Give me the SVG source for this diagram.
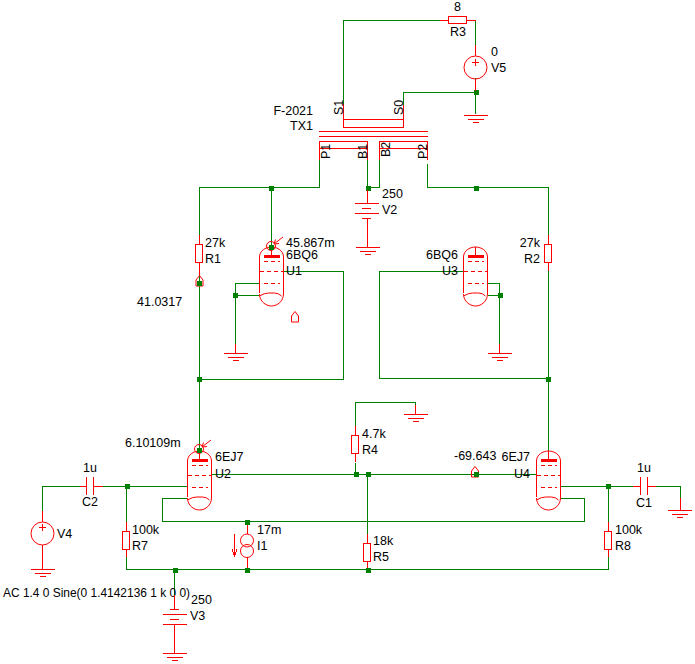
<svg xmlns="http://www.w3.org/2000/svg" xmlns:xlink="http://www.w3.org/1999/xlink" width="695" height="664" viewBox="0 0 695 664">
<style>
text{font-family:"Liberation Sans",Arial,sans-serif;font-size:12.5px;fill:#000}
.e{text-anchor:end}.m{text-anchor:middle}
.g{fill:none;stroke:#008000;stroke-width:1;shape-rendering:crispEdges}
.r,.c{fill:none;stroke:#f00;stroke-width:1}
.r{shape-rendering:crispEdges}
.b{fill:#f00;stroke:none;shape-rendering:crispEdges}
.d{fill:#008000;shape-rendering:crispEdges}
.dash{stroke-dasharray:4 3}
</style>
<defs>
<g id="gnd"><path class="r" d="M-12 .5H12M-8 4.5H8M-3 7.5H3"/></g>
<g id="res"><rect class="r" x="-3.5" y="0.5" width="7" height="18"/></g>
<g id="bullet"><path class="c" d="M-3.5 11V5L0 .5L3.500 5V11Z"/></g>
<g id="dot"><rect class="d" x="-2.500" y="-2.500" width="5" height="5"/></g>
<g id="tube">
<path class="c" d="M-12 46V10C-12 4-6 0 0 0C6 0 12 4 12 10V47C12 54 6 59 0 59C-6 59-12 54-12 47"/>
<path class="r" d="M0 0V8"/>
<rect class="b" x="-8" y="7.500" width="16" height="3"/>
<path class="r dash" d="M-8 14.500H8M-12 24.500H12M-8 36.500H8"/>
<path class="c" d="M-12 49Q-7 46-3 46H3Q7 46 10 49"/>
</g>
<g id="probe"><circle class="c" r="4.500"/><path class="c" d="M3 -2L12 -9M3 -2L4.500 -6.500M3 -2L8 -2.500"/></g>
</defs>

<g id="connectors">
<path class="g" d="M343.500 104V20.500H439.500"/>
<path class="g" d="M475.500 20.500V45"/>
<path class="g" d="M475.500 92.500H403.500V105"/>
<path class="g" d="M475.500 78V114"/>
<path class="g" d="M200 187.500H319.500V160"/>
<path class="g" d="M367.500 160V187.500"/>
<path class="g" d="M379.500 160V187.500H367"/>
<path class="g" d="M427.500 164V187.500H548.500V244"/>
<path class="g" d="M199.500 187V236"/>
<path class="g" d="M271.500 187V247"/>
<path class="g" d="M199.500 272V450"/>
<path class="g" d="M548.500 262V451"/>
<path class="g" d="M283 271.500H343.500V379.500H199"/>
<path class="g" d="M464 271.500H379.500V378.500H548"/>
<path class="g" d="M259 283.500H235.500V344M259 295.500H235"/>
<path class="g" d="M488 283.500H499.500V344M488 295.500H500"/>
<path class="g" d="M211 474.500H536"/>
<path class="g" d="M42.500 511V486.500H80M103 486.500H187"/>
<path class="g" d="M560 486.500H633M656 486.500H680.500V498"/>
<path class="g" d="M187 498.500H162.500V521.500H584.500V498.500H560"/>
<path class="g" d="M126.500 486V522M126.500 557V569.500H608.500V557M608.500 486V522"/>
<path class="g" d="M355.500 426V402.500H415.500V405M355.500 463V474"/>
<path class="g" d="M367.500 474V534"/>
<path class="g" d="M174.500 570V595"/>
<use xlink:href="#dot" href="#dot" x="476.500" y="92.500"/>
<use xlink:href="#dot" href="#dot" x="368.500" y="188.500"/>
<use xlink:href="#dot" href="#dot" x="476.500" y="188.500"/>
<use xlink:href="#dot" href="#dot" x="271.500" y="188.500"/>
<use xlink:href="#dot" href="#dot" x="199.500" y="283.500"/>
<use xlink:href="#dot" href="#dot" x="235.500" y="295.500"/>
<use xlink:href="#dot" href="#dot" x="500.500" y="295.500"/>
<use xlink:href="#dot" href="#dot" x="199.500" y="379.500"/>
<use xlink:href="#dot" href="#dot" x="548.500" y="379.500"/>
<use xlink:href="#dot" href="#dot" x="127.500" y="486.500"/>
<use xlink:href="#dot" href="#dot" x="608.500" y="486.500"/>
<use xlink:href="#dot" href="#dot" x="356.500" y="474.500"/>
<use xlink:href="#dot" href="#dot" x="368.500" y="474.500"/>
<use xlink:href="#dot" href="#dot" x="476.500" y="474.500"/>
<use xlink:href="#dot" href="#dot" x="247.500" y="522.500"/>
<use xlink:href="#dot" href="#dot" x="175.500" y="570.500"/>
<use xlink:href="#dot" href="#dot" x="247.500" y="570.500"/>
<use xlink:href="#dot" href="#dot" x="368.500" y="570.500"/>
</g>

<g id="R3"><path class="r" d="M440 20.500H448M467 20.500H475.500"/><rect class="r" x="448.500" y="16.500" width="18" height="7"/><text x="454" y="11">8</text><text x="450" y="36">R3</text></g>
<g id="V5"><path class="r" d="M475.500 45V56M475.500 79V91"/><circle class="c" cx="475.500" cy="67.500" r="11.500"/><path class="r" d="M472 62.500H479M475.500 59V66"/><text x="491" y="56">0</text><text x="491" y="72">V5</text><use href="#gnd" xlink:href="#gnd" x="475.500" y="115"/></g>
<g id="TX1">
<path class="r" d="M343.500 104V127.500H403.500V105M343 119.500H404"/>
<path class="r" d="M319 131.500H428M319 136.500H428"/>
<path class="r" d="M319.500 160V141.500H367.500V160M319 148.500H368M379.500 160V141.500H427.500V160M379 148.500H428"/>
<text class="e" x="313" y="115">F-2021</text><text class="e" x="313" y="130">TX1</text>
<text transform="translate(342.500 115) rotate(-90)">S1</text><text transform="translate(402.500 115) rotate(-90)">S0</text>
<text transform="translate(330 159) rotate(-90)">P1</text><text transform="translate(367 159) rotate(-90)">B1</text>
<text transform="translate(390 157) rotate(-90)">B2</text><text transform="translate(427 159) rotate(-90)">P2</text>
</g>
<g id="V2"><path class="r" d="M367.500 190V203M355 203.500H379M362 208.500H371M355 213.500H379M362 218.500H371M367.500 218V247"/><text x="382" y="198">250</text><text x="382" y="214">V2</text><use href="#gnd" xlink:href="#gnd" x="367.500" y="247"/></g>
<g id="R1"><path class="r" d="M199.500 235V244M199.500 262V275"/><use href="#res" xlink:href="#res" x="199" y="244"/><text x="205" y="247">27k</text><text x="205" y="263">R1</text></g>
<g id="R2"><path class="r" d="M548.500 235V244M548.500 262V271"/><use href="#res" xlink:href="#res" x="548" y="244"/><text class="e" x="540" y="247">27k</text><text class="e" x="540" y="263">R2</text></g>
<g id="probe1"><use href="#bullet" xlink:href="#bullet" x="199.500" y="275"/><use xlink:href="#dot" href="#dot" x="199.500" y="283.500"/><text x="137" y="306">41.0317</text></g>
<g id="probe2"><use href="#bullet" xlink:href="#bullet" x="295" y="311"/></g>
<g id="probe3"><use href="#bullet" xlink:href="#bullet" x="475" y="466"/><use xlink:href="#dot" href="#dot" x="476.500" y="474.500"/><text x="454" y="460">-69.643</text></g>
<g id="U1"><use href="#tube" xlink:href="#tube" x="271.500" y="247"/><use href="#probe" xlink:href="#probe" x="271" y="246"/><use xlink:href="#dot" href="#dot" x="271.500" y="247.500"/><use href="#gnd" xlink:href="#gnd" x="235.500" y="353"/><path class="r" d="M235.500 344V353"/><text x="286" y="247">45.867m</text><text x="286" y="259">6BQ6</text><text x="286" y="275">U1</text></g>
<g id="U3"><use href="#tube" xlink:href="#tube" x="475.500" y="247"/><use href="#gnd" xlink:href="#gnd" x="499.500" y="353"/><path class="r" d="M499.500 344V353"/><text class="e" x="458" y="259">6BQ6</text><text class="e" x="458" y="275">U3</text></g>
<g id="U2"><use href="#tube" xlink:href="#tube" x="199.500" y="451"/><use href="#probe" xlink:href="#probe" x="199" y="449"/><use xlink:href="#dot" href="#dot" x="199.500" y="450.500"/><text x="125" y="447">6.10109m</text><text x="215" y="461">6EJ7</text><text x="215" y="478">U2</text></g>
<g id="U4"><use href="#tube" xlink:href="#tube" x="548.500" y="451"/><text class="e" x="530" y="461">6EJ7</text><text class="e" x="530" y="478">U4</text></g>
<g id="R4"><path class="r" d="M355.500 426V435M355.500 453V462"/><use href="#res" xlink:href="#res" x="355" y="435"/><text x="362" y="438">4.7k</text><text x="362" y="454">R4</text></g>
<g id="GND4"><path class="r" d="M415.500 405V414"/><use href="#gnd" xlink:href="#gnd" x="415.500" y="414"/></g>
<g id="R5"><path class="r" d="M367.500 534V543M367.500 561V570"/><use href="#res" xlink:href="#res" x="367" y="543"/><use xlink:href="#dot" href="#dot" x="368.500" y="570.500"/><text x="373" y="545">18k</text><text x="373" y="561">R5</text></g>
<g id="R7"><path class="r" d="M126.500 522V531M126.500 549V557"/><use href="#res" xlink:href="#res" x="126" y="531"/><text x="132" y="534">100k</text><text x="132" y="550">R7</text></g>
<g id="R8"><path class="r" d="M608.500 522V531M608.500 549V557"/><use href="#res" xlink:href="#res" x="608" y="531"/><text x="615" y="534">100k</text><text x="615" y="550">R8</text></g>
<g id="C2"><path class="r" d="M80 486.500H86.500M86.500 477V495M93.500 477V495M93.500 486.500H103"/><text class="m" x="90" y="472">1u</text><text class="m" x="90" y="506">C2</text></g>
<g id="C1"><path class="r" d="M633 486.500H640.500M640.500 477V495M647.500 477V495M647.500 486.500H656"/><text class="m" x="644" y="472">1u</text><text class="m" x="644" y="507">C1</text></g>
<g id="GND1"><path class="r" d="M680.500 498V510"/><use href="#gnd" xlink:href="#gnd" x="680" y="510"/></g>
<g id="V4"><path class="r" d="M42.500 511V522M42.500 545V569"/><circle class="c" cx="42.500" cy="533.500" r="11.500"/><path class="r" d="M39 527.500H46M42.500 524V531"/><use href="#gnd" xlink:href="#gnd" x="42.500" y="569"/><text x="57" y="538">V4</text><text x="3" y="597" textLength="187" lengthAdjust="spacingAndGlyphs">AC 1.4 0 Sine(0 1.4142136 1 k 0 0)</text></g>
<g id="I1"><path class="r" d="M247.500 523V534M247.500 557V569"/><circle class="c" cx="247" cy="540.500" r="6.500"/><circle class="c" cx="247" cy="551" r="6.500"/><path class="r" d="M234.500 534V557M234.500 557L232 549M234.500 557L237 549"/><use xlink:href="#dot" href="#dot" x="247.500" y="522.500"/><use xlink:href="#dot" href="#dot" x="247.500" y="570.500"/><text x="257" y="534">17m</text><text x="257" y="550">I1</text></g>
<g id="V3"><path class="r" d="M174.500 595V609M170 609.500H179M163 614.500H187M170 619.500H179M163 624.500H187M174.500 624V653"/><use href="#gnd" xlink:href="#gnd" x="174.500" y="653"/><text x="191" y="604">250</text><text x="190" y="620">V3</text></g>
</svg>
